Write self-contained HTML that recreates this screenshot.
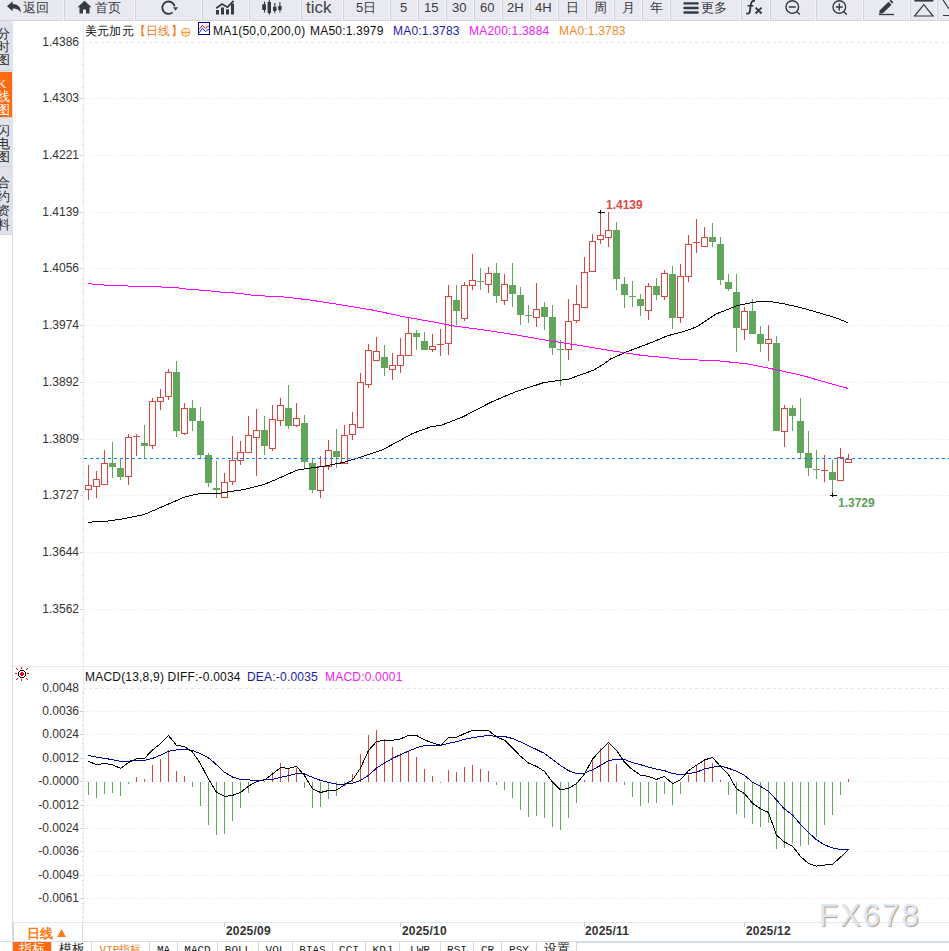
<!DOCTYPE html>
<html><head><meta charset="utf-8">
<style>
*{margin:0;padding:0;box-sizing:border-box}
html,body{width:949px;height:951px;overflow:hidden;background:#fff;font-family:"Liberation Sans",sans-serif;color:#222}
#tb{position:absolute;left:0;top:0;width:949px;height:21px}
.tt{position:absolute;top:0;font-size:13px;line-height:15px;color:#3a3a40;white-space:nowrap}
#side{position:absolute;left:0;top:21px;width:13px;height:214px;background:#e2e2ea;overflow:hidden;border-bottom:1px solid #cfd7e0}
.tab{position:absolute;left:0;width:12px;border-bottom:1px solid #d0d0d8;overflow:hidden}.tab span{position:absolute;left:-3px;font-size:13px;line-height:14px;color:#2a2a2a;width:14px;text-align:left}.tab.k span{color:#fff}
#chart{position:absolute;left:0;top:0}
.hd{position:absolute;font-size:12px;line-height:14px;white-space:nowrap;letter-spacing:0.2px}
#bot{position:absolute;left:0;top:941px;height:10px;width:949px;border-top:1px solid #d6dce4}
.bb{position:absolute;top:0;height:10px;border-right:1px solid #d4d8de;font-family:'Liberation Mono',monospace;font-size:11px;line-height:14px;padding-top:1px;text-align:center;overflow:hidden;white-space:nowrap;background:#fff}
</style></head><body>
<div id="tb">
<svg width="949" height="21" viewBox="0 0 949 21" style="position:absolute;left:0;top:0">
 <rect width="949" height="21" fill="#e9e9f1"/>
 <path d="M0 20.5H949" stroke="#d3d3dc"/>
 <path d="M63.5 0V21M134.5 0V21M201.5 0V21M248.5 0V21M300.5 0V21M342.5 0V21M389.5 0V21M417.5 0V21M445.5 0V21M473.5 0V21M501.5 0V21M529.5 0V21M557.5 0V21M585.5 0V21M613.5 0V21M641.5 0V21M669.5 0V21M740.5 0V21M769.5 0V21M815.5 0V21M862.5 0V21M909.5 0V21M936.5 0V21" stroke="#f3f3f8"/>
 <path d="M64.5 0V20M135.5 0V20M202.5 0V20M249.5 0V20M301.5 0V20M343.5 0V20M390.5 0V20M418.5 0V20M446.5 0V20M474.5 0V20M502.5 0V20M530.5 0V20M558.5 0V20M586.5 0V20M614.5 0V20M642.5 0V20M670.5 0V20M741.5 0V20M770.5 0V20M816.5 0V20M863.5 0V20M910.5 0V20M937.5 0V20" stroke="#d3d3dc"/>
 <g fill="#333b45">
  <path d="M7 6.3L12.6 1.2V4.1C17.5 4.2 21.2 6.8 20.6 12.8C19.3 9.8 16.5 8.5 12.6 8.6V11.3Z"/>
  <path d="M84.5 0.8L77.5 7.3H79.5V13.5H83V9.5H86V13.5H89.5V7.3H91.5Z"/>
  <path d="M173.1 7.3H177.9L175.5 10.7Z"/>
  <path d="M216 10H219V14.5H216ZM221 7.6H224V14.5H221ZM226 9.3H229V14.5H226ZM231 3.6H234V14.5H231Z"/>
  <path d="M262.2 4.2H266V10H262.2ZM267.6 2H271V13H267.6ZM273 6.7H276.5V11H273ZM278.2 5.9H281.6V10H278.2Z"/>
  <path d="M879.8 10.2L888.5 1.8L891.6 4.8L882.9 13.2L879.2 13.8Z"/>
  <path d="M889.5 1L890.8 -0.3L893.4 2.3L892.1 3.6Z"/>
 </g>
 <g fill="none" stroke="#333b45">
  <path d="M172.6 12.4A6.2 6.2 0 1 1 174.6 6.2" stroke-width="1.9"/>
  <path d="M216.2 8.3L222 4L227.5 7.2L233.6 0.8" stroke-width="1.7"/>
  <path d="M264.5 1.5V12.5M269.3 0V14.8M274.8 3V13.3M279.9 2.2V12.5" stroke-width="1.1"/>
  <path d="M684.5 3.4H697.6M684.5 8H697.6M684.5 12.5H697.6" stroke-width="2.4" stroke-linecap="round"/>
  <circle cx="792.3" cy="7" r="6.3" stroke-width="1.4"/>
  <path d="M788.8 7H795.8M796.6 11.6L799.8 14.5" stroke-width="1.4"/>
  <circle cx="839.3" cy="7" r="6.3" stroke-width="1.4"/>
  <path d="M835.8 7H842.8M839.3 3.5V10.5M843.6 11.6L846.8 14.5" stroke-width="1.4"/>
  <path d="M879 14.5H894" stroke-width="1.3"/>
  <path d="M914.4 0.8H933.3" stroke-width="1.6"/>
  <path d="M914.6 16L923.8 4.6L933 16Z" stroke-width="1.2"/>
  <path d="M943 15.5H949M943 0L949 9" stroke-width="1.2"/>
  <path d="M755 0.9C752.3 0.4 751.2 2 750.8 4.8L749.8 11.8C749.5 13.4 748.2 14 746.2 13.5" stroke-width="1.9"/>
  <path d="M747.6 5.8H753.4" stroke-width="1.6"/>
  <path d="M755.5 7.6L761.6 13.5M761.6 7.6L755.5 13.5" stroke-width="1.9"/>
 </g>
</svg>
 <span class="tt" style="left:23px">返回</span>
 <span class="tt" style="left:95px">首页</span>
 <span class="tt" style="left:306px;font-size:17px;top:-2px;line-height:20px;color:#444">tick</span>
 <span class="tt" style="left:356px">5日</span>
 <span class="tt" style="left:400px">5</span>
 <span class="tt" style="left:424px">15</span>
 <span class="tt" style="left:452px">30</span>
 <span class="tt" style="left:480px">60</span>
 <span class="tt" style="left:507px">2H</span>
 <span class="tt" style="left:535px">4H</span>
 <span class="tt" style="left:566px">日</span>
 <span class="tt" style="left:594px">周</span>
 <span class="tt" style="left:622px">月</span>
 <span class="tt" style="left:650px">年</span>
 <span class="tt" style="left:701px">更多</span>
</div>
<div id="side">
 <div class="tab" style="top:0;height:50px"><span style="top:6px">分</span><span style="top:19px">时</span><span style="top:32px">图</span></div>
 <div class="tab k" style="top:51px;height:46px;background:#ff6a13"><span style="top:5px;font-family:'Liberation Serif',serif;font-size:13px">K</span><span style="top:18px">线</span><span style="top:31px">图</span></div>
 <div class="tab" style="top:97px;height:49px"><span style="top:6px">闪</span><span style="top:19px">电</span><span style="top:32px">图</span></div>
 <div class="tab" style="top:146px;height:67px;border-bottom:none"><span style="top:9px">合</span><span style="top:23px">约</span><span style="top:37px">资</span><span style="top:51px">料</span></div>
</div>
<svg id="chart" width="949" height="951" viewBox="0 0 949 951" style="position:absolute;left:0;top:0">
 <path d="M12.5 234V951" stroke="#cfd8e2" stroke-width="1"/>
 <path d="M83.5 21V922" stroke="#e6ebf1" stroke-width="1"/>
 <path d="M13 666.5H949M13 922.5H949" stroke="#e4e9ef" stroke-width="1"/>
<path d="M84 98.5H949 M84 155.5H949 M84 212.5H949 M84 268.5H949 M84 325.5H949 M84 382.5H949 M84 439.5H949 M84 495.5H949 M84 552.5H949 M84 609.5H949 M84 711.5H949 M84 734.5H949 M84 758.5H949 M84 781.5H949 M84 805.5H949 M84 828.5H949 M84 851.5H949 M84 875.5H949 M84 898.5H949" stroke="#e0e6ec" stroke-width="1" stroke-dasharray="1 2" fill="none" shape-rendering="crispEdges"/>
<path d="M83 42.5H949M83 688.5H949" stroke="#dfe6ee" stroke-width="1" stroke-dasharray="3 3" fill="none" shape-rendering="crispEdges"/>
<path d="M82 53.5H83 M82 64.5H83 M82 76.5H83 M82 87.5H83 M80 98.5H83 M82 109.5H83 M82 121.5H83 M82 132.5H83 M82 144.5H83 M80 155.5H83 M82 166.5H83 M82 178.5H83 M82 189.5H83 M82 201.5H83 M80 212.5H83 M82 223.5H83 M82 234.5H83 M82 246.5H83 M82 257.5H83 M80 268.5H83 M82 279.5H83 M82 291.5H83 M82 302.5H83 M82 314.5H83 M80 325.5H83 M82 336.5H83 M82 348.5H83 M82 359.5H83 M82 371.5H83 M80 382.5H83 M82 393.5H83 M82 405.5H83 M82 416.5H83 M82 428.5H83 M80 439.5H83 M82 450.5H83 M82 461.5H83 M82 473.5H83 M82 484.5H83 M80 495.5H83 M82 506.5H83 M82 518.5H83 M82 529.5H83 M82 541.5H83 M80 552.5H83 M82 563.5H83 M82 575.5H83 M82 586.5H83 M82 598.5H83 M80 609.5H83 M82 620.5H83 M82 632.5H83 M82 643.5H83 M82 654.5H83 M82 693.5H83 M82 697.5H83 M82 702.5H83 M82 707.5H83 M80 711.5H83 M82 716.5H83 M82 720.5H83 M82 725.5H83 M82 730.5H83 M80 734.5H83 M82 739.5H83 M82 743.5H83 M82 748.5H83 M82 753.5H83 M80 758.5H83 M82 763.5H83 M82 767.5H83 M82 772.5H83 M82 777.5H83 M80 781.5H83 M82 786.5H83 M82 790.5H83 M82 795.5H83 M82 800.5H83 M80 805.5H83 M82 810.5H83 M82 814.5H83 M82 819.5H83 M82 824.5H83 M80 828.5H83 M82 833.5H83 M82 837.5H83 M82 842.5H83 M82 847.5H83 M80 851.5H83 M82 856.5H83 M82 860.5H83 M82 865.5H83 M82 870.5H83 M80 875.5H83 M82 880.5H83 M82 884.5H83 M82 889.5H83 M82 894.5H83 M80 898.5H83 M82 903.5H83 M82 907.5H83 M82 912.5H83 M82 917.5H83" stroke="#c9d2dc" stroke-width="1" fill="none"/>
<g font-family="Liberation Sans, sans-serif" font-size="12" fill="#333" text-anchor="end"><text x="79" y="45.5">1.4386</text><text x="79" y="101.5">1.4303</text><text x="79" y="158.5">1.4221</text><text x="79" y="215.5">1.4139</text><text x="79" y="271.5">1.4056</text><text x="79" y="328.5">1.3974</text><text x="79" y="385.5">1.3892</text><text x="79" y="442.5">1.3809</text><text x="79" y="498.5">1.3727</text><text x="79" y="555.5">1.3644</text><text x="79" y="612.5">1.3562</text><text x="79" y="691.5">0.0048</text><text x="79" y="714.5">0.0036</text><text x="79" y="737.5">0.0024</text><text x="79" y="761.5">0.0012</text><text x="79" y="784.5">-0.0000</text><text x="79" y="808.5">-0.0012</text><text x="79" y="831.5">-0.0024</text><text x="79" y="854.5">-0.0036</text><text x="79" y="878.5">-0.0049</text><text x="79" y="901.5">-0.0061</text></g>
<g fill="#d8453f" shape-rendering="crispEdges"><rect x="88" y="465" width="1" height="20"/><rect x="88" y="490" width="1" height="10"/><rect x="85.5" y="485.5" width="6" height="4" fill="#fff" stroke="#d8453f" stroke-width="1"/><rect x="96" y="471" width="1" height="8"/><rect x="96" y="487" width="1" height="11"/><rect x="93.5" y="479.5" width="6" height="7" fill="#fff" stroke="#d8453f" stroke-width="1"/><rect x="104" y="450" width="1" height="13"/><rect x="101.5" y="463.5" width="6" height="21" fill="#fff" stroke="#d8453f" stroke-width="1"/><rect x="128" y="434" width="1" height="3"/><rect x="128" y="477" width="1" height="8"/><rect x="125.5" y="437.5" width="6" height="39" fill="#fff" stroke="#d8453f" stroke-width="1"/><rect x="136" y="434" width="1" height="2"/><rect x="136" y="437" width="1" height="19"/><rect x="133" y="436" width="7" height="1"/><rect x="152" y="398" width="1" height="3"/><rect x="152" y="446" width="1" height="3"/><rect x="149.5" y="401.5" width="6" height="44" fill="#fff" stroke="#d8453f" stroke-width="1"/><rect x="160" y="389" width="1" height="8"/><rect x="160" y="402" width="1" height="8"/><rect x="157.5" y="397.5" width="6" height="4" fill="#fff" stroke="#d8453f" stroke-width="1"/><rect x="168" y="369" width="1" height="3"/><rect x="168" y="397" width="1" height="3"/><rect x="165.5" y="372.5" width="6" height="24" fill="#fff" stroke="#d8453f" stroke-width="1"/><rect x="184" y="403" width="1" height="5"/><rect x="184" y="434" width="1" height="1"/><rect x="181.5" y="408.5" width="6" height="25" fill="#fff" stroke="#d8453f" stroke-width="1"/><rect x="224" y="473" width="1" height="9"/><rect x="221.5" y="482.5" width="6" height="15" fill="#fff" stroke="#d8453f" stroke-width="1"/><rect x="232" y="436" width="1" height="24"/><rect x="232" y="482" width="1" height="3"/><rect x="229.5" y="460.5" width="6" height="21" fill="#fff" stroke="#d8453f" stroke-width="1"/><rect x="240" y="441" width="1" height="11"/><rect x="240" y="461" width="1" height="4"/><rect x="237.5" y="452.5" width="6" height="8" fill="#fff" stroke="#d8453f" stroke-width="1"/><rect x="248" y="416" width="1" height="19"/><rect x="245.5" y="435.5" width="6" height="17" fill="#fff" stroke="#d8453f" stroke-width="1"/><rect x="256" y="409" width="1" height="21"/><rect x="256" y="438" width="1" height="38"/><rect x="253.5" y="430.5" width="6" height="7" fill="#fff" stroke="#d8453f" stroke-width="1"/><rect x="272" y="405" width="1" height="14"/><rect x="272" y="449" width="1" height="2"/><rect x="269.5" y="419.5" width="6" height="29" fill="#fff" stroke="#d8453f" stroke-width="1"/><rect x="280" y="398" width="1" height="7"/><rect x="280" y="421" width="1" height="5"/><rect x="277.5" y="405.5" width="6" height="15" fill="#fff" stroke="#d8453f" stroke-width="1"/><rect x="296" y="403" width="1" height="15"/><rect x="296" y="426" width="1" height="1"/><rect x="293.5" y="418.5" width="6" height="7" fill="#fff" stroke="#d8453f" stroke-width="1"/><rect x="320" y="456" width="1" height="10"/><rect x="320" y="491" width="1" height="7"/><rect x="317.5" y="466.5" width="6" height="24" fill="#fff" stroke="#d8453f" stroke-width="1"/><rect x="328" y="440" width="1" height="10"/><rect x="328" y="467" width="1" height="3"/><rect x="325.5" y="450.5" width="6" height="16" fill="#fff" stroke="#d8453f" stroke-width="1"/><rect x="344" y="425" width="1" height="10"/><rect x="341.5" y="435.5" width="6" height="28" fill="#fff" stroke="#d8453f" stroke-width="1"/><rect x="352" y="412" width="1" height="12"/><rect x="352" y="435" width="1" height="5"/><rect x="349.5" y="424.5" width="6" height="10" fill="#fff" stroke="#d8453f" stroke-width="1"/><rect x="360" y="373" width="1" height="9"/><rect x="357.5" y="382.5" width="6" height="45" fill="#fff" stroke="#d8453f" stroke-width="1"/><rect x="368" y="344" width="1" height="6"/><rect x="368" y="385" width="1" height="3"/><rect x="365.5" y="350.5" width="6" height="34" fill="#fff" stroke="#d8453f" stroke-width="1"/><rect x="376" y="337" width="1" height="14"/><rect x="373.5" y="351.5" width="6" height="9" fill="#fff" stroke="#d8453f" stroke-width="1"/><rect x="392" y="353" width="1" height="12"/><rect x="392" y="370" width="1" height="10"/><rect x="389.5" y="365.5" width="6" height="4" fill="#fff" stroke="#d8453f" stroke-width="1"/><rect x="400" y="338" width="1" height="17"/><rect x="400" y="366" width="1" height="7"/><rect x="397.5" y="355.5" width="6" height="10" fill="#fff" stroke="#d8453f" stroke-width="1"/><rect x="408" y="317" width="1" height="16"/><rect x="405.5" y="333.5" width="6" height="22" fill="#fff" stroke="#d8453f" stroke-width="1"/><rect x="432" y="334" width="1" height="12"/><rect x="432" y="350" width="1" height="2"/><rect x="429.5" y="346.5" width="6" height="3" fill="#fff" stroke="#d8453f" stroke-width="1"/><rect x="440" y="329" width="1" height="15"/><rect x="440" y="345" width="1" height="11"/><rect x="437" y="344" width="7" height="1"/><rect x="448" y="285" width="1" height="11"/><rect x="448" y="344" width="1" height="11"/><rect x="445.5" y="296.5" width="6" height="47" fill="#fff" stroke="#d8453f" stroke-width="1"/><rect x="464" y="282" width="1" height="3"/><rect x="464" y="319" width="1" height="2"/><rect x="461.5" y="285.5" width="6" height="33" fill="#fff" stroke="#d8453f" stroke-width="1"/><rect x="472" y="254" width="1" height="26"/><rect x="472" y="286" width="1" height="4"/><rect x="469.5" y="280.5" width="6" height="5" fill="#fff" stroke="#d8453f" stroke-width="1"/><rect x="488" y="267" width="1" height="6"/><rect x="488" y="285" width="1" height="8"/><rect x="485.5" y="273.5" width="6" height="11" fill="#fff" stroke="#d8453f" stroke-width="1"/><rect x="504" y="274" width="1" height="10"/><rect x="504" y="301" width="1" height="4"/><rect x="501.5" y="284.5" width="6" height="16" fill="#fff" stroke="#d8453f" stroke-width="1"/><rect x="536" y="283" width="1" height="26"/><rect x="536" y="318" width="1" height="9"/><rect x="533.5" y="309.5" width="6" height="8" fill="#fff" stroke="#d8453f" stroke-width="1"/><rect x="568" y="299" width="1" height="22"/><rect x="568" y="350" width="1" height="10"/><rect x="565.5" y="321.5" width="6" height="28" fill="#fff" stroke="#d8453f" stroke-width="1"/><rect x="576" y="285" width="1" height="19"/><rect x="576" y="321" width="1" height="2"/><rect x="573.5" y="304.5" width="6" height="16" fill="#fff" stroke="#d8453f" stroke-width="1"/><rect x="584" y="257" width="1" height="15"/><rect x="581.5" y="272.5" width="6" height="35" fill="#fff" stroke="#d8453f" stroke-width="1"/><rect x="592" y="234" width="1" height="7"/><rect x="589.5" y="241.5" width="6" height="30" fill="#fff" stroke="#d8453f" stroke-width="1"/><rect x="600" y="212" width="1" height="23"/><rect x="600" y="240" width="1" height="4"/><rect x="597.5" y="235.5" width="6" height="4" fill="#fff" stroke="#d8453f" stroke-width="1"/><rect x="608" y="212" width="1" height="18"/><rect x="608" y="238" width="1" height="9"/><rect x="605.5" y="230.5" width="6" height="7" fill="#fff" stroke="#d8453f" stroke-width="1"/><rect x="648" y="283" width="1" height="3"/><rect x="648" y="311" width="1" height="9"/><rect x="645.5" y="286.5" width="6" height="24" fill="#fff" stroke="#d8453f" stroke-width="1"/><rect x="664" y="270" width="1" height="3"/><rect x="664" y="297" width="1" height="3"/><rect x="661.5" y="273.5" width="6" height="23" fill="#fff" stroke="#d8453f" stroke-width="1"/><rect x="680" y="264" width="1" height="12"/><rect x="680" y="318" width="1" height="5"/><rect x="677.5" y="276.5" width="6" height="41" fill="#fff" stroke="#d8453f" stroke-width="1"/><rect x="688" y="235" width="1" height="9"/><rect x="688" y="277" width="1" height="5"/><rect x="685.5" y="244.5" width="6" height="32" fill="#fff" stroke="#d8453f" stroke-width="1"/><rect x="696" y="219" width="1" height="23"/><rect x="696" y="243" width="1" height="10"/><rect x="693" y="242" width="7" height="1"/><rect x="704" y="227" width="1" height="10"/><rect x="701.5" y="237.5" width="6" height="9" fill="#fff" stroke="#d8453f" stroke-width="1"/><rect x="744" y="307" width="1" height="4"/><rect x="744" y="330" width="1" height="10"/><rect x="741.5" y="311.5" width="6" height="18" fill="#fff" stroke="#d8453f" stroke-width="1"/><rect x="768" y="325" width="1" height="14"/><rect x="768" y="344" width="1" height="17"/><rect x="765.5" y="339.5" width="6" height="4" fill="#fff" stroke="#d8453f" stroke-width="1"/><rect x="784" y="405" width="1" height="3"/><rect x="784" y="432" width="1" height="15"/><rect x="781.5" y="408.5" width="6" height="23" fill="#fff" stroke="#d8453f" stroke-width="1"/><rect x="824" y="455" width="1" height="15"/><rect x="824" y="471" width="1" height="11"/><rect x="821" y="470" width="7" height="1"/><rect x="840" y="448" width="1" height="9"/><rect x="837.5" y="457.5" width="6" height="23" fill="#fff" stroke="#d8453f" stroke-width="1"/><rect x="848" y="454" width="1" height="5"/><rect x="845.5" y="459.5" width="6" height="3" fill="#fff" stroke="#d8453f" stroke-width="1"/></g>
<g fill="#62a65e" shape-rendering="crispEdges"><rect x="112" y="442" width="1" height="36"/><rect x="109" y="463" width="7" height="4"/><rect x="120" y="458" width="1" height="22"/><rect x="117" y="468" width="7" height="9"/><rect x="144" y="425" width="1" height="34"/><rect x="141" y="443" width="7" height="3"/><rect x="176" y="361" width="1" height="76"/><rect x="173" y="372" width="7" height="59"/><rect x="192" y="400" width="1" height="31"/><rect x="189" y="408" width="7" height="13"/><rect x="200" y="407" width="1" height="51"/><rect x="197" y="421" width="7" height="34"/><rect x="208" y="453" width="1" height="34"/><rect x="205" y="455" width="7" height="28"/><rect x="216" y="461" width="1" height="37"/><rect x="213" y="488" width="7" height="2"/><rect x="264" y="416" width="1" height="39"/><rect x="261" y="430" width="7" height="16"/><rect x="288" y="385" width="1" height="44"/><rect x="285" y="408" width="7" height="18"/><rect x="304" y="415" width="1" height="54"/><rect x="301" y="423" width="7" height="39"/><rect x="312" y="459" width="1" height="34"/><rect x="309" y="463" width="7" height="27"/><rect x="336" y="429" width="1" height="39"/><rect x="333" y="451" width="7" height="6"/><rect x="384" y="345" width="1" height="31"/><rect x="381" y="357" width="7" height="11"/><rect x="416" y="330" width="1" height="20"/><rect x="413" y="333" width="7" height="4"/><rect x="424" y="332" width="1" height="18"/><rect x="421" y="341" width="7" height="9"/><rect x="456" y="285" width="1" height="40"/><rect x="453" y="300" width="7" height="11"/><rect x="480" y="268" width="1" height="22"/><rect x="477" y="281" width="7" height="1"/><rect x="496" y="263" width="1" height="40"/><rect x="493" y="273" width="7" height="23"/><rect x="512" y="263" width="1" height="44"/><rect x="509" y="285" width="7" height="9"/><rect x="520" y="287" width="1" height="38"/><rect x="517" y="295" width="7" height="20"/><rect x="528" y="305" width="1" height="18"/><rect x="525" y="315" width="7" height="1"/><rect x="544" y="302" width="1" height="28"/><rect x="541" y="307" width="7" height="10"/><rect x="552" y="305" width="1" height="50"/><rect x="549" y="317" width="7" height="31"/><rect x="560" y="340" width="1" height="46"/><rect x="557" y="349" width="7" height="1"/><rect x="616" y="222" width="1" height="68"/><rect x="613" y="230" width="7" height="49"/><rect x="624" y="277" width="1" height="31"/><rect x="621" y="284" width="7" height="11"/><rect x="632" y="281" width="1" height="26"/><rect x="629" y="296" width="7" height="1"/><rect x="640" y="294" width="1" height="22"/><rect x="637" y="299" width="7" height="7"/><rect x="656" y="278" width="1" height="22"/><rect x="653" y="286" width="7" height="9"/><rect x="672" y="266" width="1" height="63"/><rect x="669" y="274" width="7" height="44"/><rect x="712" y="223" width="1" height="24"/><rect x="709" y="237" width="7" height="5"/><rect x="720" y="237" width="1" height="48"/><rect x="717" y="244" width="7" height="36"/><rect x="728" y="274" width="1" height="17"/><rect x="725" y="282" width="7" height="7"/><rect x="736" y="274" width="1" height="78"/><rect x="733" y="292" width="7" height="36"/><rect x="752" y="299" width="1" height="35"/><rect x="749" y="311" width="7" height="23"/><rect x="760" y="326" width="1" height="26"/><rect x="757" y="334" width="7" height="10"/><rect x="776" y="336" width="1" height="95"/><rect x="773" y="343" width="7" height="88"/><rect x="792" y="405" width="1" height="26"/><rect x="789" y="408" width="7" height="8"/><rect x="800" y="398" width="1" height="60"/><rect x="797" y="421" width="7" height="32"/><rect x="808" y="431" width="1" height="45"/><rect x="805" y="453" width="7" height="15"/><rect x="816" y="450" width="1" height="29"/><rect x="813" y="469" width="7" height="1"/><rect x="832" y="460" width="1" height="35"/><rect x="829" y="472" width="7" height="8"/></g>
<polyline points="88.2,283.3 93.5,284.3 109.3,285.4 133.5,286.2 172.5,287.3 181,288.3 189.4,289.4 205.2,290.4 221,292.1 237.8,293.2 253.6,295.3 269.5,296.3 284,297 309.3,299.9 340.9,304.8 372.5,310 404.1,316.8 431.5,321.6 452.6,325.8 484,330 515.6,334.8 547.2,340.4 578.8,345.3 610.4,350.6 642.1,355.4 684,359.5 715.6,360.6 747.2,363.8 772.5,369 802,375.4 827.3,382.7 848,388.4" fill="none" stroke="#ff00ff" stroke-width="1" shape-rendering="crispEdges"/>
<polyline points="88,522.2 106,521.3 122,519 144,514.6 163,506.4 185,496.9 199,493.7 220,493.1 244,489.5 264,484.5 278,478.6 296,470.5 301,469.4 324,466.3 344,462.3 363,456.4 383,449.6 404,438.2 412,433.7 431.5,426.5 441,425.4 463,416.8 490.6,402.4 513.8,392.5 544,382.5 568.3,379.2 583.4,373.9 594,370 604,363.9 610.4,359 627.3,351.6 652.6,342.1 667.4,335.8 684,331.5 696.6,326.9 715.6,314.2 736.7,305.8 753.5,302.2 768.3,301.2 785.2,304.1 802,307.9 818.9,312.8 835.7,317.8 848,322.7" fill="none" stroke="#000" stroke-width="1" shape-rendering="crispEdges"/>
<path d="M84 458.5H949" stroke="#0a84ff" stroke-width="1" stroke-dasharray="3 3" shape-rendering="crispEdges"/>
<path d="M598 212.5H605M600.5 210V214M830 495.5H837M832.5 493V497" stroke="#000" stroke-width="1" shape-rendering="crispEdges"/>
<text x="606" y="209" font-family="Liberation Sans, sans-serif" font-size="12" font-weight="bold" fill="#dc4a42">1.4139</text>
<text x="838" y="507" font-family="Liberation Sans, sans-serif" font-size="12" font-weight="bold" fill="#5a9e58">1.3729</text>
<g fill="#d8453f" shape-rendering="crispEdges"><rect x="136" y="777" width="1" height="5"/><rect x="144" y="779" width="1" height="3"/><rect x="152" y="765" width="1" height="17"/><rect x="160" y="759" width="1" height="23"/><rect x="168" y="750" width="1" height="32"/><rect x="176" y="771" width="1" height="11"/><rect x="184" y="776" width="1" height="6"/><rect x="256" y="781" width="1" height="1"/><rect x="264" y="781" width="1" height="1"/><rect x="272" y="772" width="1" height="10"/><rect x="280" y="763" width="1" height="19"/><rect x="288" y="768" width="1" height="14"/><rect x="296" y="768" width="1" height="14"/><rect x="352" y="774" width="1" height="8"/><rect x="360" y="754" width="1" height="28"/><rect x="368" y="735" width="1" height="47"/><rect x="376" y="730" width="1" height="52"/><rect x="384" y="739" width="1" height="43"/><rect x="392" y="747" width="1" height="35"/><rect x="400" y="753" width="1" height="29"/><rect x="408" y="752" width="1" height="30"/><rect x="416" y="757" width="1" height="25"/><rect x="424" y="769" width="1" height="13"/><rect x="432" y="776" width="1" height="6"/><rect x="448" y="770" width="1" height="12"/><rect x="456" y="772" width="1" height="10"/><rect x="464" y="767" width="1" height="15"/><rect x="472" y="765" width="1" height="17"/><rect x="480" y="769" width="1" height="13"/><rect x="488" y="771" width="1" height="11"/><rect x="584" y="780" width="1" height="2"/><rect x="592" y="759" width="1" height="23"/><rect x="600" y="748" width="1" height="34"/><rect x="608" y="744" width="1" height="38"/><rect x="616" y="764" width="1" height="18"/><rect x="688" y="775" width="1" height="7"/><rect x="696" y="766" width="1" height="16"/><rect x="704" y="761" width="1" height="21"/><rect x="712" y="763" width="1" height="19"/><rect x="720" y="780" width="1" height="2"/><rect x="848" y="779" width="1" height="3"/></g>
<g fill="#62a65e" shape-rendering="crispEdges"><rect x="88" y="782" width="1" height="13"/><rect x="96" y="782" width="1" height="16"/><rect x="104" y="782" width="1" height="12"/><rect x="112" y="782" width="1" height="11"/><rect x="120" y="782" width="1" height="14"/><rect x="128" y="782" width="1" height="2"/><rect x="192" y="782" width="1" height="5"/><rect x="200" y="782" width="1" height="24"/><rect x="208" y="782" width="1" height="43"/><rect x="216" y="782" width="1" height="53"/><rect x="224" y="782" width="1" height="52"/><rect x="232" y="782" width="1" height="39"/><rect x="240" y="782" width="1" height="26"/><rect x="248" y="782" width="1" height="11"/><rect x="304" y="782" width="1" height="6"/><rect x="312" y="782" width="1" height="26"/><rect x="320" y="782" width="1" height="25"/><rect x="328" y="782" width="1" height="17"/><rect x="336" y="782" width="1" height="14"/><rect x="344" y="782" width="1" height="3"/><rect x="440" y="782" width="1" height="1"/><rect x="496" y="782" width="1" height="3"/><rect x="504" y="782" width="1" height="8"/><rect x="512" y="782" width="1" height="16"/><rect x="520" y="782" width="1" height="28"/><rect x="528" y="782" width="1" height="35"/><rect x="536" y="782" width="1" height="34"/><rect x="544" y="782" width="1" height="36"/><rect x="552" y="782" width="1" height="45"/><rect x="560" y="782" width="1" height="48"/><rect x="568" y="782" width="1" height="36"/><rect x="576" y="782" width="1" height="21"/><rect x="624" y="782" width="1" height="3"/><rect x="632" y="782" width="1" height="15"/><rect x="640" y="782" width="1" height="24"/><rect x="648" y="782" width="1" height="21"/><rect x="656" y="782" width="1" height="21"/><rect x="664" y="782" width="1" height="12"/><rect x="672" y="782" width="1" height="23"/><rect x="680" y="782" width="1" height="12"/><rect x="728" y="782" width="1" height="13"/><rect x="736" y="782" width="1" height="32"/><rect x="744" y="782" width="1" height="36"/><rect x="752" y="782" width="1" height="42"/><rect x="760" y="782" width="1" height="45"/><rect x="768" y="782" width="1" height="41"/><rect x="776" y="782" width="1" height="67"/><rect x="784" y="782" width="1" height="66"/><rect x="792" y="782" width="1" height="61"/><rect x="800" y="782" width="1" height="64"/><rect x="808" y="782" width="1" height="63"/><rect x="816" y="782" width="1" height="55"/><rect x="824" y="782" width="1" height="43"/><rect x="832" y="782" width="1" height="33"/><rect x="840" y="782" width="1" height="13"/></g>
<polyline points="88.5,755.4 96.5,757.1 104.5,758.4 112.5,759.6 120.5,761.3 128.5,761.3 136.5,760.1 144.5,760.5 152.5,758.4 160.5,755.1 168.5,751.2 176.5,750 184.5,749.5 192.5,750.4 200.5,753.7 208.5,757.9 216.5,764.7 224.5,772.3 232.5,777 240.5,779.4 248.5,779.9 256.5,780.4 264.5,779.9 272.5,779.4 280.5,777.3 288.5,775.6 296.5,773.6 304.5,774 312.5,777.3 320.5,780.4 328.5,782.4 336.5,784.1 344.5,784.1 352.5,783.2 360.5,780.4 368.5,775.3 376.5,768.1 384.5,763 392.5,758.4 400.5,754.6 408.5,751.2 416.5,747.8 424.5,745.6 432.5,745.3 440.5,745.3 448.5,743.3 456.5,741.6 464.5,739.4 472.5,737.7 480.5,736.4 488.5,735.5 496.5,736.4 504.5,736.5 512.5,738.5 520.5,741.9 528.5,745.8 536.5,749.5 544.5,753.4 552.5,759.6 560.5,765.5 568.5,770.6 576.5,773.6 584.5,773.1 592.5,769.7 600.5,765.5 608.5,760.5 616.5,759.3 624.5,759.6 632.5,762.5 640.5,764.7 648.5,767.2 656.5,769.2 664.5,770.6 672.5,773.6 680.5,774.5 688.5,773.6 696.5,772.3 704.5,768.9 712.5,767.2 720.5,766 728.5,768.3 736.5,771.2 744.5,775.4 752.5,782.2 760.5,786.4 768.5,791.4 776.5,799.9 784.5,809.1 792.5,815 800.5,824.3 808.5,832.4 816.5,839.8 824.5,844.9 832.5,847.9 840.5,849.6 848.5,849.6" fill="none" stroke="#00008f" stroke-width="1" shape-rendering="crispEdges"/>
<polyline points="88.5,761.3 96.5,764.7 104.5,763.5 112.5,764.7 120.5,768.4 128.5,762.5 136.5,758.8 144.5,758.4 152.5,750 160.5,743.6 168.5,735.5 176.5,745.3 184.5,746.6 192.5,752 200.5,763.8 208.5,779 216.5,792.2 224.5,796.4 232.5,795.4 240.5,792.5 248.5,786.1 256.5,781.6 264.5,779.9 272.5,774 280.5,767.6 288.5,768.4 296.5,766.4 304.5,775.6 312.5,788.8 320.5,792.5 328.5,790.5 336.5,790 344.5,785 352.5,779.9 360.5,768.1 368.5,750.4 376.5,741.6 384.5,740.2 392.5,740.2 400.5,738.9 408.5,735.5 416.5,735.5 424.5,739.9 432.5,742.8 440.5,745.3 448.5,737.4 456.5,737.4 464.5,733.5 472.5,730.5 480.5,730.5 488.5,730.5 496.5,736.9 504.5,740.2 512.5,747.8 520.5,756.3 528.5,763 536.5,766.4 544.5,771.4 552.5,782 560.5,790 568.5,788.3 576.5,783.7 584.5,774 592.5,759.1 600.5,750.4 608.5,742.4 616.5,750.4 624.5,762.2 632.5,769.7 640.5,775.1 648.5,776.5 656.5,779.4 664.5,776.5 672.5,783.6 680.5,779.9 688.5,770.6 696.5,765.2 704.5,760 712.5,757.4 720.5,766.4 728.5,774.6 736.5,788.9 744.5,793.6 752.5,803.2 760.5,808.8 768.5,812.5 776.5,835.3 784.5,842 792.5,846.2 800.5,856.4 808.5,863.6 816.5,866.1 824.5,865.1 832.5,864.3 840.5,857.2 848.5,849.6" fill="none" stroke="#000" stroke-width="1" shape-rendering="crispEdges"/>
</svg>
<div class="hd" style="left:85px;top:24px;color:#111">美元加元</div>
<div class="hd" style="left:134px;top:24px;color:#f07a1a">【日线】</div>
<svg width="12" height="12" style="position:absolute;left:180px;top:27px" viewBox="0 0 12 12"><circle cx="5.8" cy="5.4" r="4" fill="none" stroke="#ff8a1a" stroke-width="1"/><path d="M1.8 5.4H9.8" stroke="#ff8a1a" stroke-width="1.1"/><path d="M5.8 1.4V9.4" stroke="#ffb070" stroke-width="0.8"/></svg>
<svg width="14" height="15" style="position:absolute;left:198px;top:22px" viewBox="0 0 14 15"><rect x="0.5" y="0.5" width="11" height="12" fill="#fff" stroke="#000090" stroke-width="1" shape-rendering="crispEdges"/><path d="M1 7.5L4.5 3.3L7.5 6.5L10 4.3H11" stroke="#f00" stroke-width="1" fill="none"/><path d="M1 11L4.5 6.3L7.5 9.5L10 7.5H11" stroke="#0030e0" stroke-width="1" fill="none"/></svg>
<div class="hd" style="left:213px;top:24px;color:#111">MA1(50,0,200,0)</div><div class="hd" style="left:310px;top:24px;color:#111">MA50:1.3979</div>
<div class="hd" style="left:393px;top:24px;color:#1a1aa6">MA0:1.3783</div>
<div class="hd" style="left:469px;top:24px;color:#ee22ee">MA200:1.3884</div>
<div class="hd" style="left:559px;top:24px;color:#f08a2a">MA0:1.3783</div>
<svg width="949" height="20" style="position:absolute;left:0;top:664px" viewBox="0 664 949 20" shape-rendering="crispEdges"><rect x="20" y="670" width="4" height="1" fill="#000"/><rect x="20" y="677" width="4" height="1" fill="#000"/><rect x="18" y="672" width="1" height="4" fill="#000"/><rect x="25" y="672" width="1" height="4" fill="#000"/><rect x="19" y="671" width="1" height="1" fill="#000"/><rect x="24" y="671" width="1" height="1" fill="#000"/><rect x="19" y="676" width="1" height="1" fill="#000"/><rect x="24" y="676" width="1" height="1" fill="#000"/><rect x="20" y="673" width="4" height="2" fill="#f00"/><rect x="21" y="672" width="2" height="4" fill="#f00"/><rect x="21" y="667" width="1" height="2" fill="#f00"/><rect x="21" y="679" width="1" height="2" fill="#f00"/><rect x="15" y="673" width="2" height="1" fill="#f00"/><rect x="27" y="673" width="2" height="1" fill="#f00"/><rect x="16" y="668" width="1" height="1" fill="#f00"/><rect x="17" y="669" width="1" height="1" fill="#f00"/><rect x="27" y="668" width="1" height="1" fill="#f00"/><rect x="26" y="669" width="1" height="1" fill="#f00"/><rect x="17" y="678" width="1" height="1" fill="#f00"/><rect x="16" y="679" width="1" height="1" fill="#f00"/><rect x="26" y="678" width="1" height="1" fill="#f00"/><rect x="27" y="679" width="1" height="1" fill="#f00"/></svg>
<div class="hd" style="left:85px;top:670px;color:#111">MACD(13,8,9) DIFF:-0.0034</div>
<div class="hd" style="left:247px;top:670px;color:#1a1aa6">DEA:-0.0035</div>
<div class="hd" style="left:325px;top:670px;color:#ee22ee">MACD:0.0001</div>
<div style="position:absolute;left:13px;top:922px;width:70px;height:20px;border:1px solid #d4dbe4;border-top:none"></div>
<div style="position:absolute;left:27px;top:926px;font-size:13px;line-height:16px;font-weight:bold;color:#ff7a12;white-space:nowrap">日线</div>
<svg width="10" height="9" style="position:absolute;left:57px;top:929px" viewBox="0 0 10 9"><path d="M4.5 0L8.8 8H0.2Z" fill="#ff7a12"/></svg>
<svg width="949" height="30" style="position:absolute;left:0;top:921px" viewBox="0 921 949 30"><path d="M224.5 922V927M400.5 922V927M584.5 922V927M744.5 922V927" stroke="#c8d0d8"/><path d="M577 942.5H949" stroke="#d4dbe4"/></svg>
<div class="hd" style="left:226px;top:924px;font-weight:bold;color:#333">2025/09</div>
<div class="hd" style="left:402px;top:924px;font-weight:bold;color:#333">2025/10</div>
<div class="hd" style="left:585px;top:924px;font-weight:bold;color:#333">2025/11</div>
<div class="hd" style="left:746px;top:924px;font-weight:bold;color:#333">2025/12</div>
<div style="position:absolute;left:819px;top:898px;font-size:31px;letter-spacing:2.1px;color:#dce8f6;text-shadow:1px 1px 1px #b39a86">FX678</div>
<div id="bot">
 <div class="bb" style="left:13px;width:39px;color:#fff;background:#ff6a13;font-family:'Liberation Sans',sans-serif;font-size:13px;top:0;padding-top:0">指标</div>
 <div class="bb" style="left:52px;width:40px;color:#222;font-family:'Liberation Sans',sans-serif;font-size:13px;top:0;padding-top:0">模板</div>
 <div class="bb" style="left:92px;width:58px;color:#f07a1a">VIP指标</div>
 <div class="bb" style="left:150px;width:28px;color:#222">MA</div>
 <div class="bb" style="left:178px;width:40px;color:#222">MACD</div>
 <div class="bb" style="left:218px;width:41px;color:#222">BOLL</div>
 <div class="bb" style="left:259px;width:34px;color:#222">VOL</div>
 <div class="bb" style="left:293px;width:40px;color:#222">BIAS</div>
 <div class="bb" style="left:333px;width:33px;color:#222">CCI</div>
 <div class="bb" style="left:366px;width:34px;color:#222">KDJ</div>
 <div class="bb" style="left:400px;width:41px;color:#222">LWR</div>
 <div class="bb" style="left:441px;width:33px;color:#222">RSI</div>
 <div class="bb" style="left:474px;width:28px;color:#222">CR</div>
 <div class="bb" style="left:502px;width:35px;color:#222">PSY</div>
 <div class="bb" style="left:537px;width:40px;color:#222;font-family:'Liberation Sans',sans-serif;font-size:13px;top:0;padding-top:0">设置</div>
</div>
</body></html>
